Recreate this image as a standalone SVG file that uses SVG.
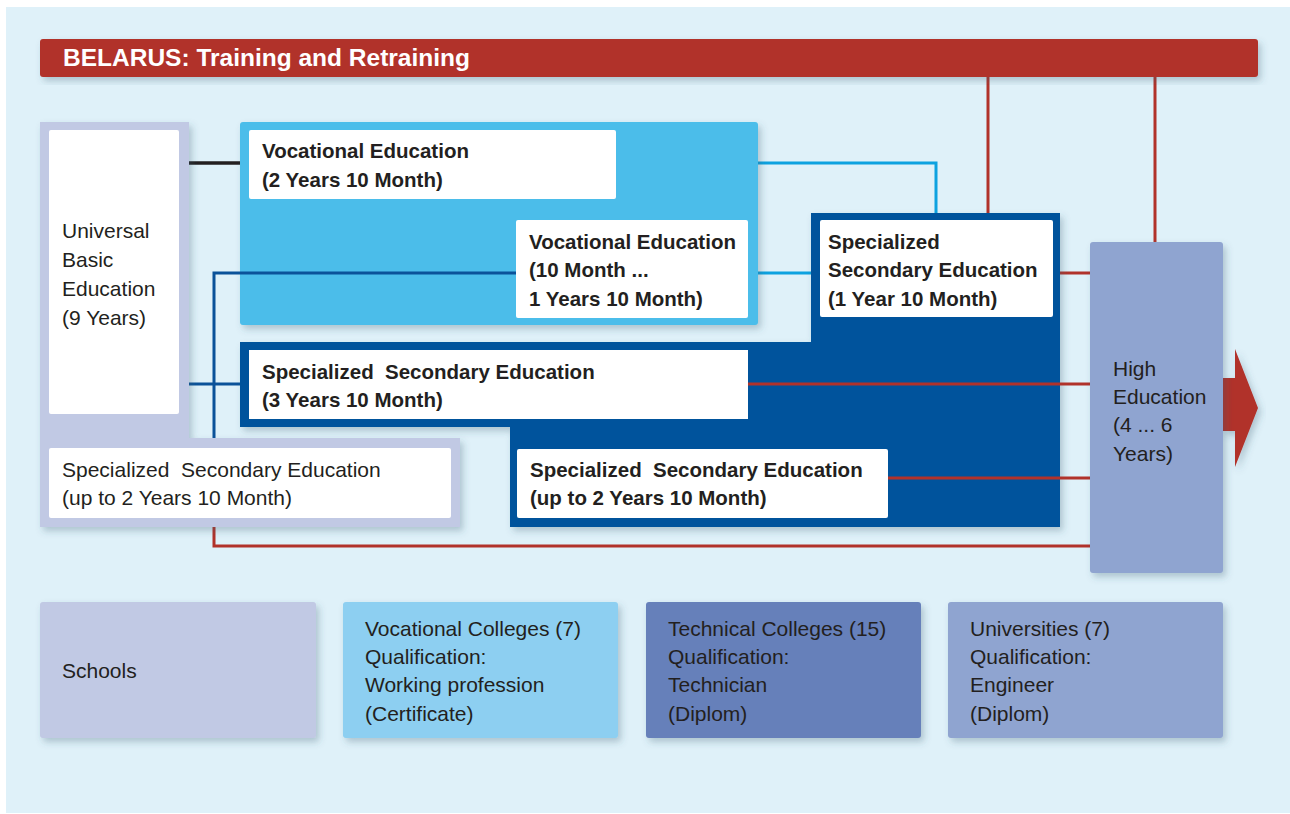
<svg xmlns="http://www.w3.org/2000/svg" width="1290" height="814" viewBox="0 0 1290 814">
<defs>
<filter id="sh" x="-10%" y="-10%" width="130%" height="130%">
<feDropShadow dx="3" dy="4" stdDeviation="3.5" flood-color="#3a5a70" flood-opacity="0.3"/>
</filter>
<style>
text{font-family:"Liberation Sans",Arial,sans-serif;fill:#231f20;font-size:21px}
.b{font-weight:bold;font-size:20.5px}
.h{font-weight:bold;font-size:24.5px;fill:#ffffff}
.w{fill:#ffffff}
.red{stroke:#b1322a;stroke-width:3;fill:none}
.blu{stroke:#0b5299;stroke-width:3;fill:none}
.lb{stroke:#0da2e0;stroke-width:3;fill:none}
.blk{stroke:#231f20;stroke-width:3.5;fill:none}
</style>
</defs>
<rect x="6" y="7" width="1284" height="806" fill="#dff1f9"/>

<g id="connectors">
<polyline class="red" points="988,77 988,213"/>
<polyline class="red" points="1155,77 1155,242"/>
<polyline class="lb" points="758,163 936,163 936,213"/>
<polyline class="lb" points="758,273 811,273"/>
<polyline class="red" points="1060,273 1090,273"/>
<polyline class="red" points="214,527 214,546 1090,546"/>
<polyline class="blk" points="189,163 240,163"/>
</g>

<g id="header">
<rect x="40" y="39" width="1218" height="38" rx="3" fill="#b1322a" filter="url(#sh)"/>
<text class="h" x="63" y="66">BELARUS: Training and Retraining</text>
</g>

<g id="vocational">
<rect x="240" y="122" width="518" height="203" rx="3" fill="#4bbdea" filter="url(#sh)"/>
<rect x="249" y="130" width="367" height="69" rx="2" class="w"/>
<text class="b" x="262" y="158">Vocational Education</text>
<text class="b" x="262" y="187">(2 Years 10 Month)</text>
</g>

<g id="connectors-blue">
<polyline class="blu" points="516,273 214,273 214,440"/>
<polyline class="blu" points="189,384 240,384"/>
</g>

<g id="vocational2">
<rect x="516" y="220" width="232" height="98" rx="2" class="w"/>
<text class="b" x="529" y="249">Vocational Education</text>
<text class="b" x="529" y="277">(10 Month ...</text>
<text class="b" x="529" y="306">1 Years 10 Month)</text>
</g>

<g id="specialized-block">
<path d="M811,213 H1060 V527 H510 V427 H240 V342 H811 Z" fill="#03529c" filter="url(#sh)"/>
</g>

<g id="connectors-red">
<polyline class="red" points="748,384 1090,384"/>
<polyline class="red" points="888,478 1090,478"/>
</g>

<g id="spec1">
<rect x="820" y="220" width="233" height="97" rx="2" class="w"/>
<text class="b" x="828" y="249">Specialized</text>
<text class="b" x="828" y="277">Secondary Education</text>
<text class="b" x="828" y="306">(1 Year 10 Month)</text>
</g>

<g id="spec3">
<rect x="249" y="350" width="499" height="69" class="w"/>
<text class="b" x="262" y="379" xml:space="preserve">Specialized  Secondary Education</text>
<text class="b" x="262" y="407">(3 Years 10 Month)</text>
</g>

<g id="spec2b">
<rect x="517" y="449" width="371" height="69" rx="2" class="w"/>
<text class="b" x="530" y="477" xml:space="preserve">Specialized  Secondary Education</text>
<text class="b" x="530" y="505">(up to 2 Years 10 Month)</text>
</g>

<g id="basic">
<path d="M40,122 H189 V438 H460 V527 H40 Z" fill="#c1c9e4" filter="url(#sh)"/>
<rect x="49" y="130" width="130" height="284" rx="2" class="w"/>
<text x="62" y="238">Universal</text>
<text x="62" y="267">Basic</text>
<text x="62" y="296">Education</text>
<text x="62" y="325">(9 Years)</text>
</g>

<g id="spec2a">
<rect x="49" y="448" width="402" height="70" rx="2" class="w"/>
<text x="62" y="477" xml:space="preserve">Specialized  Secondary Education</text>
<text x="62" y="505">(up to 2 Years 10 Month)</text>
</g>

<g id="high">
<path d="M1222,378 H1235 V349 L1258,408 L1235,467 V431 H1222 Z" fill="#b1322a" filter="url(#sh)"/>
<rect x="1090" y="242" width="133" height="331" rx="3" fill="#8fa4d0" filter="url(#sh)"/>
<text x="1113" y="376">High</text>
<text x="1113" y="404">Education</text>
<text x="1113" y="432">(4 ... 6</text>
<text x="1113" y="461">Years)</text>
</g>

<g id="schools">
<rect x="40" y="602" width="276" height="136" rx="3" fill="#c1c9e4" filter="url(#sh)"/>
<text x="62" y="678">Schools</text>
</g>

<g id="voc-colleges">
<rect x="343" y="602" width="275" height="136" rx="3" fill="#8dcff1" filter="url(#sh)"/>
<text x="365" y="636">Vocational Colleges (7)</text>
<text x="365" y="664">Qualification:</text>
<text x="365" y="692">Working profession</text>
<text x="365" y="721">(Certificate)</text>
</g>

<g id="tech-colleges">
<rect x="646" y="602" width="275" height="136" rx="3" fill="#6680ba" filter="url(#sh)"/>
<text x="668" y="636">Technical Colleges (15)</text>
<text x="668" y="664">Qualification:</text>
<text x="668" y="692">Technician</text>
<text x="668" y="721">(Diplom)</text>
</g>

<g id="universities">
<rect x="948" y="602" width="275" height="136" rx="3" fill="#8fa4d0" filter="url(#sh)"/>
<text x="970" y="636">Universities (7)</text>
<text x="970" y="664">Qualification:</text>
<text x="970" y="692">Engineer</text>
<text x="970" y="721">(Diplom)</text>
</g>
</svg>
